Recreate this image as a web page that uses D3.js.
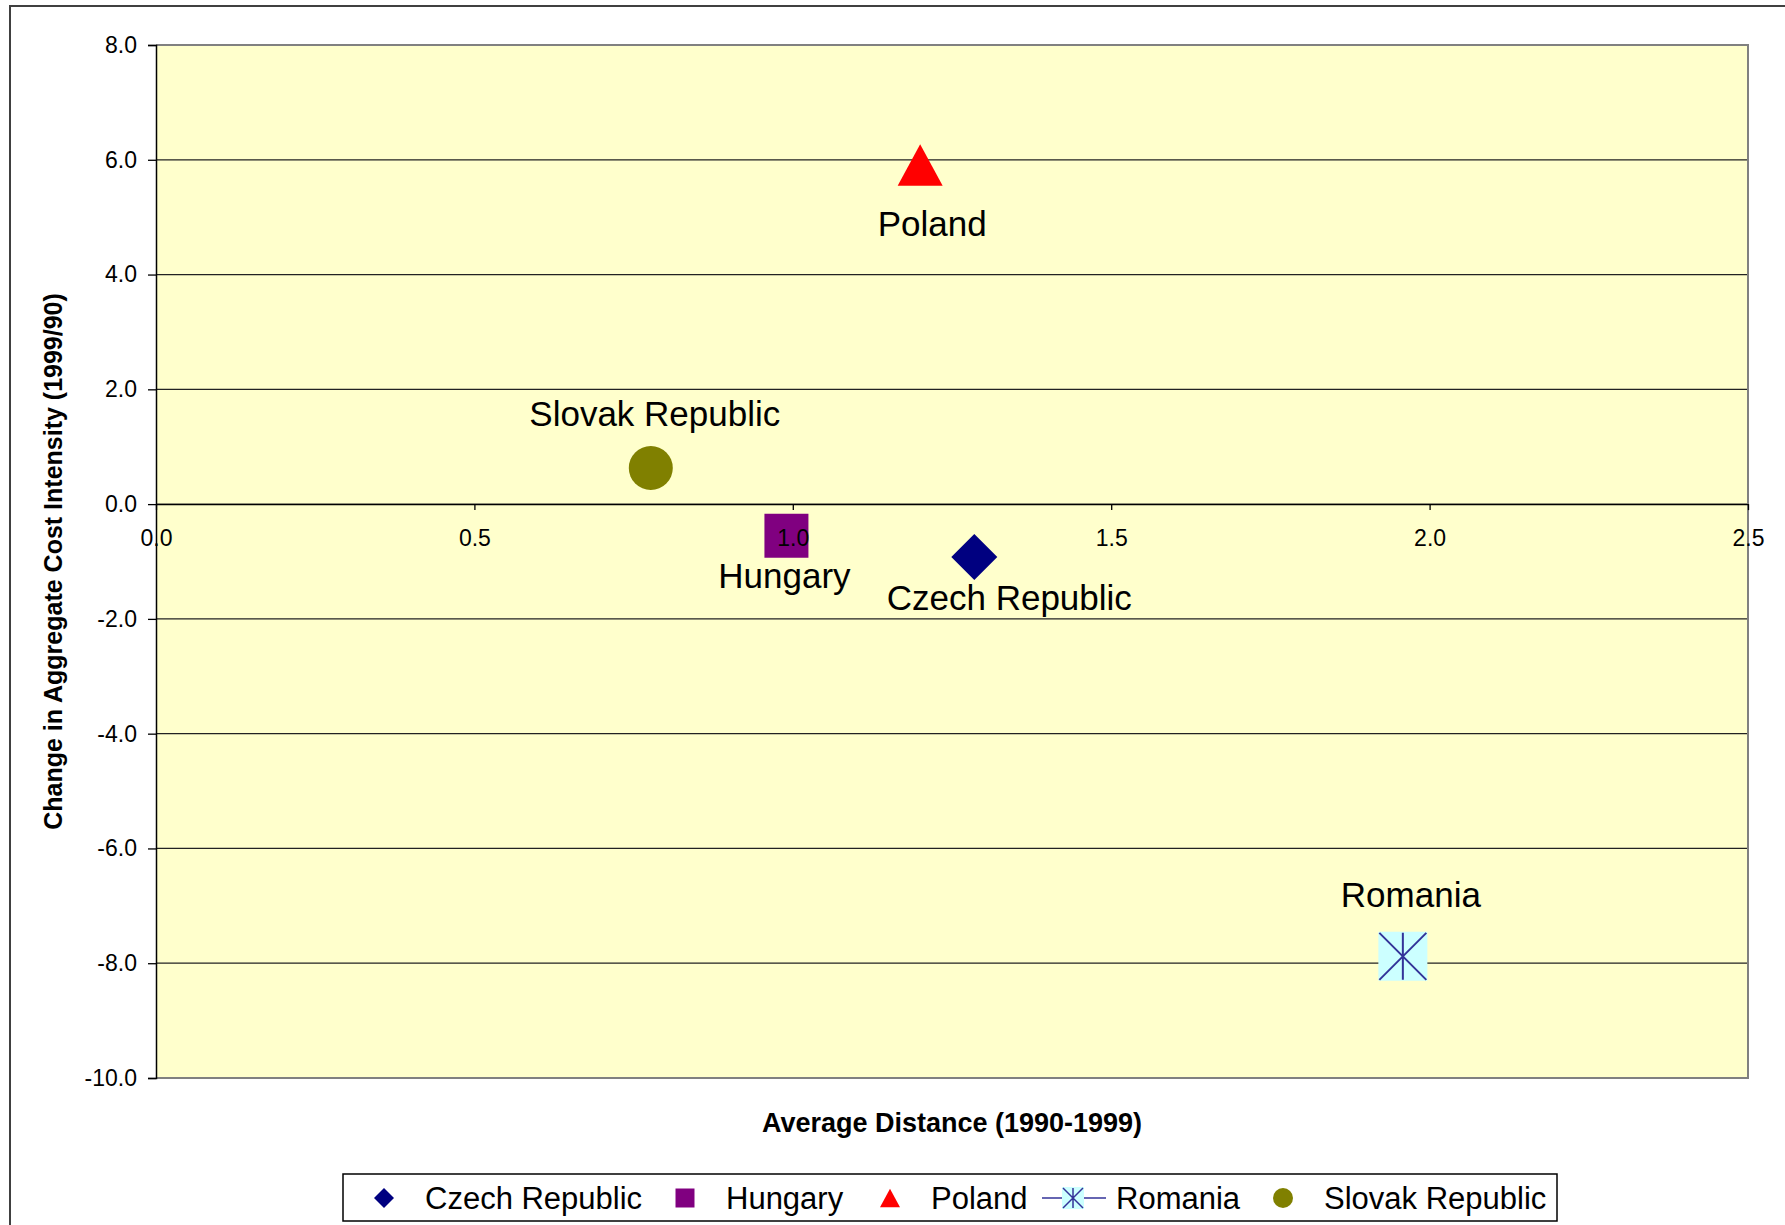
<!DOCTYPE html>
<html>
<head>
<meta charset="utf-8">
<script src="https://cdn.jsdelivr.net/npm/d3@7"></script>
<style>
  body { margin: 0; background: #fff; }
  svg { display: block; font-family: "Liberation Sans", Arial, sans-serif; }
</style>
</head>
<body>
<div id="chart"></div>
<script>
const countries = ["Czech Republic", "Hungary", "Poland", "Romania", "Slovak Republic"];
const avgDistance = [1.285, 0.99, 1.2, 1.958, 0.777];
const costChange = [-0.92, -0.55, 5.91, -7.88, 0.63];
const xTicks = [0, 0.5, 1.0, 1.5, 2.0, 2.5];
const yTicks = [8, 6, 4, 2, 0, -2, -4, -6, -8, -10];

const width = 1785;
const height = 1225;
const plot = { left: 156, right: 1748, top: 45, bottom: 1078 };

// marker look for each country
const markers = {
  "Czech Republic": { shape: "diamond", fill: "#000080" },
  "Hungary": { shape: "square", fill: "#800080" },
  "Poland": { shape: "triangle", fill: "#FF0000" },
  "Romania": { shape: "asterisk", fill: "#CCFFFF", stroke: "#333399" },
  "Slovak Republic": { shape: "circle", fill: "#808000" }
};

// data label offsets from the marker (px), placed by hand like in the original
const labelOffset = {
  "Czech Republic": [35, 53],
  "Hungary": [-2, 52],
  "Poland": [12, 71],
  "Romania": [8, -49],
  "Slovak Republic": [4, -42]
};

const svg = d3.select("#chart").append("svg")
  .attr("width", width)
  .attr("height", height);

// outer chart frame
svg.append("rect")
  .attr("x", 10).attr("y", 6)
  .attr("width", width + 20).attr("height", height + 20)
  .attr("fill", "#fff")
  .attr("stroke", "#404040")
  .attr("stroke-width", 2);

const x = d3.scaleLinear().domain([0, 2.5]).range([plot.left, plot.right]);
const y = d3.scaleLinear().domain([-10, 8]).range([plot.bottom, plot.top]);

svg.append("rect")
  .attr("x", plot.left).attr("y", plot.top)
  .attr("width", plot.right - plot.left)
  .attr("height", plot.bottom - plot.top)
  .attr("fill", "#FFFFCC");

// gridlines
svg.append("g")
  .selectAll("line")
  .data(yTicks.filter((d) => d !== 8 && d !== -10))
  .enter()
  .append("line")
  .attr("x1", plot.left).attr("x2", plot.right)
  .attr("y1", (d) => y(d)).attr("y2", (d) => y(d))
  .attr("stroke", "#222")
  .attr("stroke-width", 1.3);

// plot border (top, right, bottom)
svg.append("path")
  .attr("d", `M${plot.left},${plot.top}H${plot.right}V${plot.bottom}H${plot.left}`)
  .attr("fill", "none")
  .attr("stroke", "#808080")
  .attr("stroke-width", 2);

function markerPath(shape, s) {
  const h = s / 2;
  if (shape === "diamond") return `M0,${-h}L${h},0L0,${h}L${-h},0Z`;
  if (shape === "square") return `M${-h},${-h}H${h}V${h}H${-h}Z`;
  if (shape === "triangle") return `M0,${-h * 0.92}L${h},${h * 0.92}L${-h},${h * 0.92}Z`;
  if (shape === "circle") return d3.arc()({ innerRadius: 0, outerRadius: h, startAngle: 0, endAngle: 2 * Math.PI });
  return `M${-h},${-h}H${h}V${h}H${-h}Z`;
}

function drawMarker(g, name, size) {
  const m = markers[name];
  g.append("path")
    .attr("d", markerPath(m.shape, size))
    .attr("fill", m.fill);
  if (m.shape === "asterisk") {
    const a = size / 2 - 1;
    g.append("path")
      .attr("d", `M0,${-a}V${a}M${-a},${-a}L${a},${a}M${a},${-a}L${-a},${a}`)
      .attr("stroke", m.stroke)
      .attr("stroke-width", size > 30 ? 2 : 1.5)
      .attr("fill", "none");
  }
}

const markerSize = { diamond: 46, square: 44, triangle: 45, circle: 44, asterisk: 49 };

const points = svg.append("g")
  .selectAll("g")
  .data(countries)
  .enter()
  .append("g")
  .attr("transform", (d, i) => `translate(${x(avgDistance[i])},${y(costChange[i])})`);

points.each(function (d) {
  drawMarker(d3.select(this), d, markerSize[markers[d].shape]);
});

points.append("text")
  .attr("x", (d) => labelOffset[d][0])
  .attr("y", (d) => labelOffset[d][1])
  .attr("text-anchor", "middle")
  .attr("font-size", 35)
  .attr("fill", "#000")
  .text((d) => d);

// y axis
const axisY = d3.axisLeft(y)
  .tickValues(yTicks)
  .tickSize(8)
  .tickPadding(11)
  .tickFormat((d) => d.toFixed(1));

const gy = svg.append("g")
  .attr("transform", `translate(${plot.left},0)`)
  .call(axisY);
gy.select(".domain").attr("stroke", "#000").attr("stroke-width", 1.5);
gy.selectAll(".tick line").attr("stroke", "#000").attr("stroke-width", 1.3);
gy.selectAll("text").attr("font-size", 23).attr("fill", "#000").attr("font-family", "Liberation Sans, Arial");

// x axis sits on y = 0
const axisX = d3.axisBottom(x)
  .tickValues(xTicks)
  .tickSize(6)
  .tickSizeOuter(0)
  .tickPadding(20)
  .tickFormat((d) => d.toFixed(1));

const gx = svg.append("g")
  .attr("transform", `translate(0,${y(0)})`)
  .call(axisX);
gx.select(".domain").attr("stroke", "#000").attr("stroke-width", 1.3);
gx.selectAll(".tick line").attr("stroke", "#000").attr("stroke-width", 1.3);
gx.selectAll("text").attr("font-size", 23).attr("fill", "#000").attr("font-family", "Liberation Sans, Arial");

// axis titles
svg.append("text")
  .attr("x", (plot.left + plot.right) / 2)
  .attr("y", 1132)
  .attr("text-anchor", "middle")
  .attr("font-size", 27)
  .attr("font-weight", "bold")
  .text("Average Distance (1990-1999)");

svg.append("text")
  .attr("transform", `translate(62,${(plot.top + plot.bottom) / 2}) rotate(-90)`)
  .attr("text-anchor", "middle")
  .attr("font-size", 25)
  .attr("font-weight", "bold")
  .text("Change in Aggregate Cost Intensity (1999/90)");

// legend
const legend = svg.append("g");
legend.append("rect")
  .attr("x", 343).attr("y", 1174)
  .attr("width", 1214).attr("height", 47)
  .attr("fill", "#fff")
  .attr("stroke", "#000")
  .attr("stroke-width", 1.5);

const legendMarkerX = [384, 685, 890, 1073, 1283];
const legendTextX = [425, 726, 931, 1116, 1324];
const legendY = 1198;

countries.forEach((name, i) => {
  const g = legend.append("g").attr("transform", `translate(${legendMarkerX[i]},${legendY})`);
  if (markers[name].shape === "asterisk") {
    g.append("line")
      .attr("x1", -31).attr("x2", 33)
      .attr("stroke", "#333399")
      .attr("stroke-width", 1.5);
  }
  const s = { diamond: 20, square: 19, triangle: 20, circle: 20, asterisk: 22 }[markers[name].shape];
  drawMarker(g, name, s);
  legend.append("text")
    .attr("x", legendTextX[i])
    .attr("y", legendY + 11)
    .attr("font-size", 31)
    .text(name);
});
</script>
</body>
</html>
